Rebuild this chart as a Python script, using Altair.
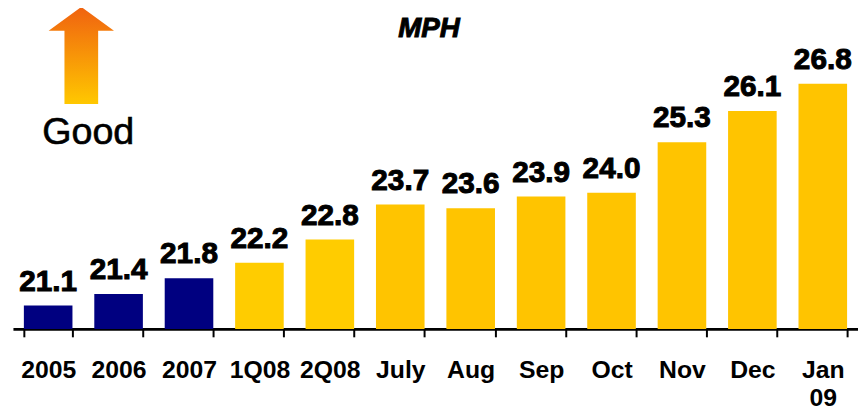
import altair as alt
import pandas as pd

categories = ["2005", "2006", "2007", "1Q08", "2Q08", "July", "Aug", "Sep", "Oct", "Nov", "Dec", "Jan 09"]
values = [21.1, 21.4, 21.8, 22.2, 22.8, 23.7, 23.6, 23.9, 24.0, 25.3, 26.1, 26.8]
groups = ["year", "year", "year", "quarter", "quarter", "month", "month", "month", "month", "month", "month", "month"]
labels = ["21.1", "21.4", "21.8", "22.2", "22.8", "23.7", "23.6", "23.9", "24.0", "25.3", "26.1", "26.8"]

df = pd.DataFrame({"cat": categories, "val": values, "grp": groups, "lab": labels})

W, H = 853, 322
FONT = "Liberation Sans"

x_enc = alt.X(
    "cat:N",
    sort=categories,
    scale=alt.Scale(paddingInner=0.31, paddingOuter=0.155),
    axis=alt.Axis(
        title=None,
        labelAngle=0,
        labelFont=FONT,
        labelFontSize=25,
        labelFontWeight="bold",
        labelColor="black",
        labelPadding=21,
        labelLineHeight=28,
        labelExpr="datum.value == 'Jan 09' ? ['Jan', '09'] : datum.value",
        tickBand="extent",
        tickColor="black",
        tickWidth=2,
        tickSize=8,
        domainColor="black",
        domainWidth=3,
        grid=False,
    ),
)
y_scale = alt.Scale(domain=[20.5, 28.7], zero=False, nice=False)

base = alt.Chart(df)

bars = base.mark_bar().encode(
    x=x_enc,
    y=alt.Y("val:Q", scale=y_scale, axis=None),
    y2=alt.datum(20.5),
    color=alt.Color(
        "grp:N",
        scale=alt.Scale(domain=["year", "quarter", "month"], range=["#000080", "#FFCC00", "#FFC400"]),
        legend=None,
    ),
)

texts = base.mark_text(
    font=FONT, fontSize=30, fontWeight="bold", color="black", stroke="black", strokeWidth=1,
    dy=-15, baseline="alphabetic"
).encode(
    x=alt.X("cat:N", sort=categories),
    y=alt.Y("val:Q", scale=y_scale),
    text="lab:N",
)

title = alt.Chart(pd.DataFrame({"t": ["MPH"]})).mark_text(
    font=FONT, fontSize=28, fontWeight="bold", fontStyle="italic", color="black",
    stroke="black", strokeWidth=1, baseline="alphabetic"
).encode(x=alt.value(420), y=alt.value(27), text="t:N")

arrow_path = "M 0 -1 L 0.673 -0.51 L 0.347 -0.51 L 0.347 1 L -0.347 1 L -0.347 -0.51 L -0.673 -0.51 Z"
gradient = alt.LinearGradient(
    gradient="linear",
    stops=[alt.GradientStop(color="#F06210", offset=0), alt.GradientStop(color="#FFC800", offset=1)],
    x1=0, y1=0, x2=0, y2=1,
)
arrow = alt.Chart(pd.DataFrame({"a": [1]})).mark_point(
    shape=arrow_path, filled=True, fill=gradient, opacity=1, strokeWidth=0, size=9604
).encode(x=alt.value(69), y=alt.value(46))

good = alt.Chart(pd.DataFrame({"t": ["Good"]})).mark_text(
    font=FONT, fontSize=38, color="black", stroke="black", strokeWidth=0.6, baseline="alphabetic"
).encode(x=alt.value(76), y=alt.value(135), text="t:N")

chart = alt.layer(bars, texts, title, arrow, good).properties(
    width=W,
    height=H,
    autosize=alt.AutoSizeParams(type="none"),
    padding={"left": 5, "top": 0, "right": 0, "bottom": 84},
).configure_view(stroke=None)

chart.save("out.html", embed_options={"renderer": "svg", "actions": False})
